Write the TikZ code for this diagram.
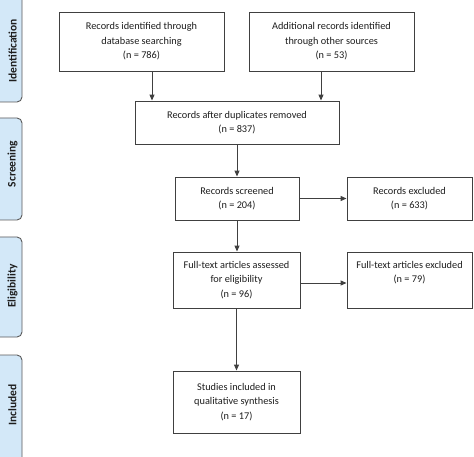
\documentclass[tikz,border=0pt]{standalone}
\usepackage{fontspec}
\setmainfont{Carlito}
\usetikzlibrary{arrows.meta}
\definecolor{sidefill}{HTML}{D3E8F8}
\definecolor{sidedraw}{HTML}{5A5A5A}
\definecolor{boxdraw}{HTML}{404040}
\definecolor{txt}{HTML}{1E1E1E}
\tikzset{
 box/.style={draw=boxdraw, line width=0.9pt, fill=white, align=center, inner sep=0pt, text=txt, font=\fontsize{10.3}{14.5}\selectfont},
 arr/.style={draw=boxdraw, line width=1pt, -{Triangle[length=6pt,width=5pt]}},
 side/.style={draw=sidedraw, fill=sidefill, line width=0.9pt, rounded corners=5pt},
 sidelabel/.style={rotate=90, font=\fontsize{11.5}{13}\selectfont\bfseries, text=txt, inner sep=0pt},
}
\begin{document}
\begin{tikzpicture}[x=1pt,y=-1pt]
\useasboundingbox (0,0) rectangle (474,457);
\begin{scope}
\clip (0,0) rectangle (474,457);
\path[side] (-8,-8) rectangle (22,102);
\path[side] (-8,118) rectangle (22,220);
\path[side] (-8,237) rectangle (22,337);
\path[side] (-8,355) rectangle (22,470);
\node[sidelabel] (sid) at (12.5,51) {Identification};
\node[sidelabel] (sscr) at (12.5,164) {Screening};
\node[sidelabel] (selg) at (12.5,286) {Eligibility};
\node[sidelabel] (sinc) at (12.5,405) {Included};
\end{scope}

\node[box, minimum width=165pt, minimum height=59pt] (b1) at (141.5,41.5) {Records identified through\\database searching\\(n = 786)};
\node[box, minimum width=165pt, minimum height=59pt] (b2) at (331.5,41.5) {Additional records identified\\through other sources\\(n = 53)};
\node[box, minimum width=204pt, minimum height=43pt] (b3) at (237,122.5) {Records after duplicates removed\\(n = 837)};
\node[box, minimum width=124pt, minimum height=43pt] (scr) at (237,198.5) {Records screened\\(n = 204)};
\node[box, minimum width=125pt, minimum height=43pt] (ex1) at (409.5,198.5) {Records excluded\\(n = 633)};
\node[box, minimum width=127pt, minimum height=56pt] (ft) at (236.5,280) {Full-text articles assessed\\for eligibility\\(n = 96)};
\node[box, minimum width=125pt, minimum height=56pt] (ex2) at (409.5,280) {Full-text articles excluded\\(n = 79)\\\phantom{(n)}};
\node[box, minimum width=127pt, minimum height=62pt] (inc) at (236.5,402) {Studies included in\\qualitative synthesis\\(n = 17)};

\draw[arr] ([xshift=10.5pt]b1.south) -- ([xshift=10.5pt]b1.south |- b3.north);
\draw[arr] ([xshift=-10.5pt]b2.south) -- ([xshift=-10.5pt]b2.south |- b3.north);
\draw[arr] (b3.south) -- (b3.south |- scr.north);
\draw[arr] (scr.south) -- (scr.south |- ft.north);
\draw[arr] (ft.south) -- (ft.south |- inc.north);
\draw[arr] (scr.east) -- (scr.east -| ex1.west);
\draw[arr] ([yshift=-3pt]ft.east) -- ([yshift=-3pt]ft.east -| ex2.west);
\end{tikzpicture}
\end{document}
